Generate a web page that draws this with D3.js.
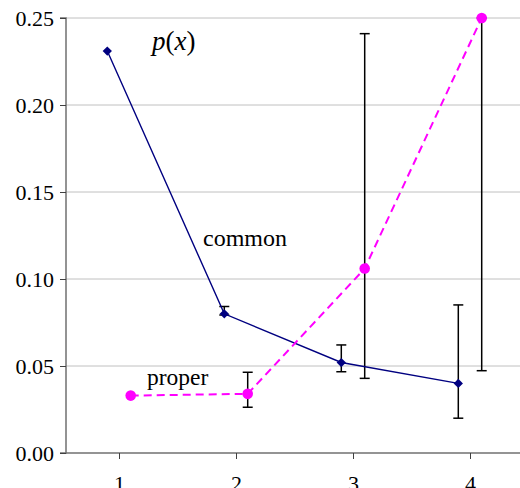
<!doctype html>
<html lang="en">
<head>
  <meta charset="utf-8">
  <title>p(x) common vs proper</title>
  <script type="text/javascript" src="https://cdnjs.cloudflare.com/ajax/libs/d3/7.8.5/d3.min.js"></script>
  <style>
    body { margin: 0; background: #fff; }
    svg text { font-family: 'Liberation Serif', 'Times New Roman', serif; }
  </style>
</head>
<body>
  <svg width="520" height="488" id="svg"></svg>
<script type="text/javascript">

  // data
  var xTicks = [1, 2, 3, 4];
  var yTicks = [0.00, 0.05, 0.10, 0.15, 0.20, 0.25];

  var commonX = [0.9, 1.9, 2.9, 3.9];
  var commonY = [0.231, 0.080, 0.052, 0.040];
  var commonLo = [null, 0.0793, 0.0467, 0.0200];
  var commonHi = [null, 0.0842, 0.0621, 0.0851];

  var properX = [1.1, 2.1, 3.1, 4.1];
  var properY = [0.033, 0.034, 0.106, 0.250];
  var properLo = [null, 0.0263, 0.0429, 0.0473];
  var properHi = [null, 0.0464, 0.241, 0.250];

  var plotLeft = 66, plotRight = 520, plotTop = 18, plotBottom = 453;

  var x = d3.scaleLinear()
    .domain([1 - 53 / 117, 1 + (520 - 119) / 117])
    .range([plotLeft, plotRight]);

  var y = d3.scaleLinear()
    .domain([0, 0.25])
    .range([plotBottom, plotTop]);

  var svg = d3.select('#svg');

  // gridlines
  svg.append('g')
    .selectAll('line')
    .data(yTicks.slice(1))
    .enter()
    .append('line')
    .attr('x1', plotLeft).attr('x2', plotRight)
    .attr('y1', function(d) { return y(d); })
    .attr('y2', function(d) { return y(d); })
    .attr('stroke', '#c0c0c0')
    .attr('stroke-width', 1);

  // axes
  var yAxis = svg.append('g')
    .attr('transform', 'translate(' + plotLeft + ',0)')
    .call(d3.axisLeft(y).tickValues(yTicks).tickFormat(d3.format('.2f')).tickSize(6).tickPadding(6));

  var xAxis = svg.append('g')
    .attr('transform', 'translate(0,' + plotBottom + ')')
    .call(d3.axisBottom(x).tickValues(xTicks).tickFormat(d3.format('d')).tickSize(6).tickPadding(16));

  [yAxis, xAxis].forEach(function(a) {
    a.attr('font-family', null).attr('font-size', 22);
    a.select('.domain').attr('stroke', '#707070').attr('stroke-width', 1.5);
    a.selectAll('.tick line').attr('stroke', '#404040');
    a.selectAll('.tick text').attr('fill', '#000');
  });
  yAxis.select('.domain').attr('d', 'M-6,' + plotTop + 'H0V' + plotBottom + 'H-6');
  yAxis.selectAll('.tick text').attr('dy', '0.35em');
  xAxis.select('.domain').attr('d', 'M' + plotLeft + ',0H' + plotRight);

  var common = commonX.map(function(d, i) {
    return { x: d, y: commonY[i], lo: commonLo[i], hi: commonHi[i] };
  });
  var proper = properX.map(function(d, i) {
    return { x: d, y: properY[i], lo: properLo[i], hi: properHi[i] };
  });

  var line = d3.line()
    .x(function(d) { return x(d.x); })
    .y(function(d) { return y(d.y); });

  // error bars
  function errorBars(data) {
    var g = svg.append('g').attr('stroke', '#000').attr('stroke-width', 1.5);
    var e = data.filter(function(d) { return d.lo !== null; });
    g.selectAll('line.v').data(e).enter().append('line')
      .attr('x1', function(d) { return x(d.x); })
      .attr('x2', function(d) { return x(d.x); })
      .attr('y1', function(d) { return y(d.lo); })
      .attr('y2', function(d) { return y(d.hi); });
    g.selectAll('line.lo').data(e).enter().append('line')
      .attr('x1', function(d) { return x(d.x) - 5; })
      .attr('x2', function(d) { return x(d.x) + 5; })
      .attr('y1', function(d) { return y(d.lo); })
      .attr('y2', function(d) { return y(d.lo); });
    g.selectAll('line.hi').data(e).enter().append('line')
      .attr('x1', function(d) { return x(d.x) - 5; })
      .attr('x2', function(d) { return x(d.x) + 5; })
      .attr('y1', function(d) { return y(d.hi); })
      .attr('y2', function(d) { return y(d.hi); });
  }

  errorBars(common);
  errorBars(proper);

  // common series
  svg.append('path')
    .datum(common)
    .attr('d', line)
    .attr('fill', 'none')
    .attr('stroke', '#000080')
    .attr('stroke-width', 1.4);

  svg.append('g')
    .selectAll('path')
    .data(common)
    .enter()
    .append('path')
    .attr('d', d3.symbol().type(d3.symbolDiamond2).size(55))
    .attr('transform', function(d) { return 'translate(' + x(d.x) + ',' + y(d.y) + ')'; })
    .attr('fill', '#000080');

  // proper series
  svg.append('path')
    .datum(proper)
    .attr('d', line)
    .attr('fill', 'none')
    .attr('stroke', '#ff00ff')
    .attr('stroke-width', 2)
    .attr('stroke-dasharray', '8,5');

  svg.append('g')
    .selectAll('circle')
    .data(proper)
    .enter()
    .append('circle')
    .attr('cx', function(d) { return x(d.x); })
    .attr('cy', function(d) { return y(d.y); })
    .attr('r', 5.3)
    .attr('fill', '#ff00ff');

  // labels
  svg.append('text')
    .attr('x', 152).attr('y', 50)
    .attr('font-size', 27)
    .html('<tspan font-style="italic">p</tspan>(<tspan font-style="italic">x</tspan>)');

  svg.append('text')
    .attr('x', 203).attr('y', 246)
    .attr('font-size', 24)
    .text('common');

  svg.append('text')
    .attr('x', 147).attr('y', 385)
    .attr('font-size', 23.5)
    .text('proper');

</script>
</body>
</html>
